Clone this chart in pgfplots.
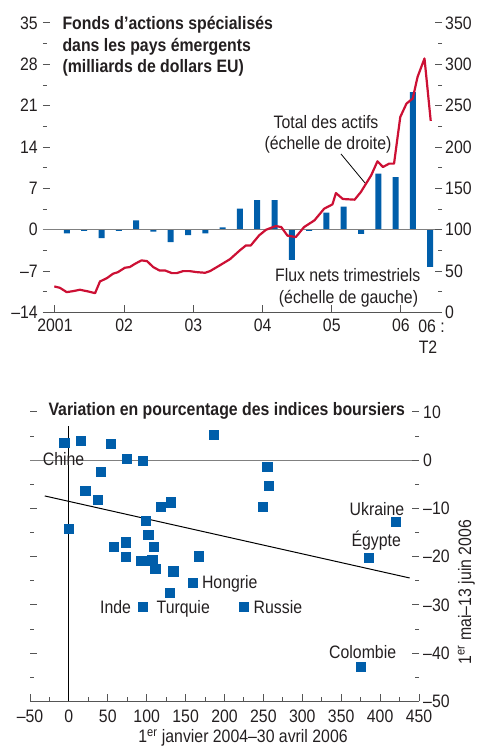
\documentclass[border=0pt]{standalone}
\usepackage{fontspec}
\setmainfont{Liberation Sans}[FakeStretch=0.88]
\usepackage{pgfplots}
\pgfplotsset{compat=1.18}
\definecolor{barblue}{RGB}{0,94,170}
\definecolor{linered}{RGB}{204,16,52}
\definecolor{axisgray}{RGB}{85,85,85}
\definecolor{txt}{RGB}{35,31,32}
\pgfplotsset{
  common/.style={
    scale only axis, anchor=south west,
    tick align=inside, major tick length=7pt, minor tick length=4pt,
    every tick/.style={axisgray, line width=1pt},
    x axis line style={-, axisgray, line width=1.2pt},
    y axis line style={draw=none},
    tick label style={text=txt},
    clip=false,
  }
}
\begin{document}
\begin{tikzpicture}[font=\fontsize{18}{21.5}\selectfont, text=txt]
\path[use as bounding box] (0,0) rectangle (476pt,746pt);

% ---------- Top panel: bars (left scale) ----------
\begin{axis}[common,
  at={(43pt,433.5pt)}, width=399pt, height=289.5pt,
  xmin=2000.827, xmax=2006.593, ymin=-14, ymax=35,
  axis x line*=bottom, axis y line*=left,
  xtick={2001,2002,2003,2004,2005,2006}, xticklabels={2001,02,03,04,05,06},
  ytick={-14,-7,0,7,14,21,28,35}, yticklabels={–14,–7,0,7,14,21,28,35},
  minor ytick={-10.5,-3.5,3.5,10.5,17.5,24.5,31.5},
  xticklabel style={inner sep=0pt, anchor=north, yshift=-6.5pt},
  yticklabel style={inner sep=0pt, anchor=east, xshift=-5pt},
]
\addplot[ybar, bar width=6pt, bar shift=0pt, fill=barblue, draw=none] coordinates {
(2001.173,-0.6) (2001.423,-0.2) (2001.673,-1.4) (2001.923,-0.2)
(2002.173,1.6) (2002.423,-0.3) (2002.673,-2.1) (2002.923,-0.9)
(2003.173,-0.6) (2003.423,0.4) (2003.673,3.6) (2003.923,5.0)
(2004.173,5.0) (2004.423,-5.1) (2004.673,-0.2) (2004.923,2.9)
(2005.173,3.9) (2005.423,-0.7) (2005.673,9.5) (2005.923,8.9)
(2006.173,23.3) (2006.423,-6.3)
};
\addplot[gray, line width=1.3pt] coordinates {(2000.827,0) (2006.593,0)};
\end{axis}

% ---------- Top panel: total assets (right scale) ----------
\begin{axis}[common,
  at={(43pt,433.5pt)}, width=399pt, height=289.5pt,
  xmin=2000.827, xmax=2006.593, ymin=0, ymax=350,
  axis x line=none, axis y line*=right,
  ytick={0,50,100,150,200,250,300,350}, yticklabels={0,50,100,150,200,250,300,350},
  minor ytick={25,75,125,175,225,275,325},
  yticklabel style={inner sep=0pt, anchor=west, xshift=3pt},
]
\addplot[linered, line width=2.2pt, line join=round] coordinates {
(2000.99,31.5) (2001.07,29.9) (2001.17,24.6) (2001.26,25.8) (2001.36,27.5)
(2001.46,25.8) (2001.58,23.4) (2001.65,37.5) (2001.75,41.5) (2001.84,46.9)
(2001.91,48.8) (2002.01,54.1) (2002.08,54.9) (2002.16,59.0) (2002.25,63.0)
(2002.33,62.1) (2002.42,54.9) (2002.51,50.8) (2002.59,50.8) (2002.69,47.6)
(2002.76,47.6) (2002.85,50.0) (2002.95,50.0) (2003.05,48.8) (2003.17,48.0)
(2003.24,50.0) (2003.38,56.9) (2003.53,64.5) (2003.67,75.0) (2003.76,81.1)
(2003.83,81.1) (2003.95,93.2) (2004.05,100.0) (2004.19,104.5) (2004.27,103.3)
(2004.36,92.9) (2004.48,91.2) (2004.60,103.3) (2004.75,111.4) (2004.89,125.5)
(2005.01,130.7) (2005.06,144.4) (2005.16,137.2) (2005.33,136.4) (2005.42,145.6)
(2005.57,165.9) (2005.66,182.8) (2005.74,175.9) (2005.83,180.0) (2005.90,180.0)
(2005.99,236.4) (2006.08,252.6) (2006.17,258.7) (2006.24,284.9) (2006.34,307.1)
(2006.43,231.6)
};
\end{axis}

% top titles and annotations
\node[anchor=base west, font=\fontsize{18}{21.5}\selectfont\bfseries] at (59pt,716pt) {Fonds d’actions spécialisés};
\node[anchor=base west, font=\fontsize{18}{21.5}\selectfont\bfseries] at (59pt,694.5pt) {dans les pays émergents};
\node[anchor=base west, font=\fontsize{18}{21.5}\selectfont\bfseries] at (59pt,673pt) {(milliards de dollars EU)};
\node[anchor=base] at (326pt,617.7pt) {Total des actifs};
\node[anchor=base] at (328pt,596pt) {(échelle de droite)};
\draw[black, line width=0.8pt] (341pt,592pt) -- (365pt,563pt);
\node[anchor=base] at (347.7pt,464pt) {Flux nets trimestriels};
\node[anchor=base] at (348.5pt,442.5pt) {(échelle de gauche)};
\node[anchor=base] at (431.5pt,413pt) {06 :};
\node[anchor=base] at (428pt,392pt) {T2};

% ---------- Bottom panel: scatter ----------
\begin{axis}[common,
  at={(30pt,44.5pt)}, width=389pt, height=289.5pt,
  xmin=-50, xmax=450, ymin=-50, ymax=10,
  axis x line*=bottom, axis y line*=left,
  xtick={-50,0,50,100,150,200,250,300,350,400,450},
  xticklabels={–50,0,50,100,150,200,250,300,350,400,450},
  minor xtick={-25,25,75,125,175,225,275,325,375,425},
  ytick={-50,-40,-30,-20,-10,0,10}, yticklabels={},
  minor ytick={-45,-35,-25,-15,-5,5},
  xticklabel style={inner sep=0pt, anchor=north, yshift=-8pt},
]
\addplot[gray, line width=1.2pt] coordinates {(-50,0) (450,0)};
\addplot[black, line width=1pt] coordinates {(0,-50) (0,7)};
\addplot[black, line width=1pt] coordinates {(-31,-7.4) (438,-24.4)};
\addplot[barblue, only marks, mark=square*, mark size=4.6pt, mark options={fill=barblue, draw=none}] coordinates {
(-6,3.6) (15,4.1) (54,3.4) (74,0.4) (95,-0.1) (186.5,5.3) (41,-2.4)
(21,-6.3) (37,-8.1) (0,-14.2) (118.5,-9.7) (131,-8.7) (99,-12.6) (102,-15.5)
(58,-17.9) (73,-17.0) (109,-17.9) (73,-20.0) (93,-20.8) (107,-20.7) (111,-22.5)
(134,-23.0) (167,-19.9) (159,-25.4) (130,-27.5) (95,-30.4)
(255,-1.4) (257,-5.2) (249,-9.7) (224.6,-30.4) (420,-12.8) (385,-20.2) (374.6,-42.8)
};
\node[anchor=base] at (axis cs:-6.8,-1.13) {Chine};
\node[anchor=base] at (axis cs:60,-31.7) {Inde};
\node[anchor=base] at (axis cs:147,-31.7) {Turquie};
\node[anchor=base] at (axis cs:206.8,-26.5) {Hongrie};
\node[anchor=base] at (axis cs:268.7,-31.7) {Russie};
\node[anchor=base] at (axis cs:396,-11.35) {Ukraine};
\node[anchor=base] at (axis cs:395,-17.9) {Égypte};
\node[anchor=base] at (axis cs:377.6,-41.0) {Colombie};
\end{axis}

\begin{axis}[common,
  at={(30pt,44.5pt)}, width=389pt, height=289.5pt,
  xmin=-50, xmax=450, ymin=-50, ymax=10,
  axis x line=none, axis y line*=right,
  ytick={-50,-40,-30,-20,-10,0,10}, yticklabels={–50,–40,–30,–20,–10,0,10},
  minor ytick={-45,-35,-25,-15,-5,5},
  yticklabel style={inner sep=0pt, anchor=west, xshift=4pt},
]
\addplot[draw=none] coordinates {(0,0)};
\end{axis}

\node[anchor=base west, font=\fontsize{18}{21.5}\selectfont\bfseries] at (45pt,330pt) {Variation en pourcentage des indices boursiers};
\node[anchor=base] at (243pt,3pt) {1\textsuperscript{er} janvier 2004–30 avril 2006};
\node[anchor=base, rotate=90] at (471pt,154pt) {1\textsuperscript{er} mai–13 juin 2006};
\end{tikzpicture}
\end{document}
